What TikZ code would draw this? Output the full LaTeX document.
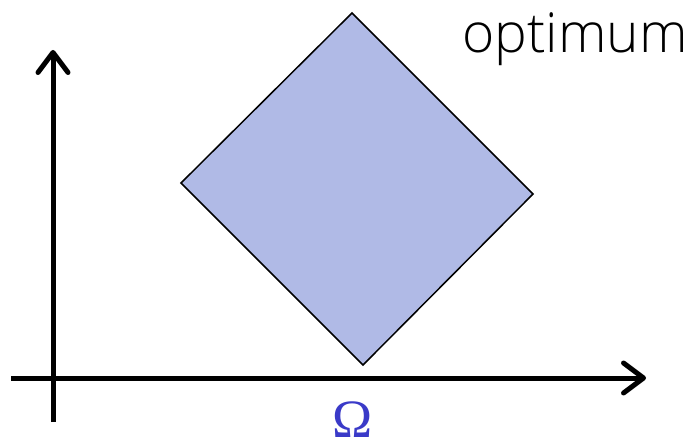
\documentclass[tikz,border=0pt]{standalone}
\usepackage{fontspec}
\setmainfont{Open Sans Light}
\newfontfamily\omegafont{Liberation Serif}
\usetikzlibrary{arrows.meta}
\definecolor{diamondfill}{RGB}{176,186,230}
\definecolor{omegablue}{RGB}{58,58,200}
\tikzset{
  axis/.style={line width=5pt, -{Straight Barb[length=20pt,width=30pt,line cap=round,line join=round]}},
  region/.style={fill=diamondfill, draw=black, line width=1.5pt, line join=miter}
}
\begin{document}
\begin{tikzpicture}[x=1pt,y=1pt]
\useasboundingbox (0,0) rectangle (700,445);
\coordinate (yb) at (53,23);
\coordinate (yt) at (53,395);
\coordinate (xl) at (11,67);
\coordinate (xr) at (646,67);
\draw[axis] (yb) -- (yt);
\draw[axis] (xl) -- (xr);
\coordinate (dt) at (352,432);
\coordinate (dr) at (533,251);
\coordinate (db) at (363,80);
\coordinate (dl) at (181,262);
\draw[region] (dt) -- (dr) -- (db) -- (dl) -- cycle;
\node[anchor=base west, inner sep=0pt, font=\fontsize{55}{60}\selectfont] (opt) at (462,392) {optimum};
\node[anchor=base, inner sep=0pt, text depth=0pt, text=omegablue, font=\fontsize{54}{60}\omegafont] (om) at (353,8) {Ω};
\end{tikzpicture}
\end{document}
